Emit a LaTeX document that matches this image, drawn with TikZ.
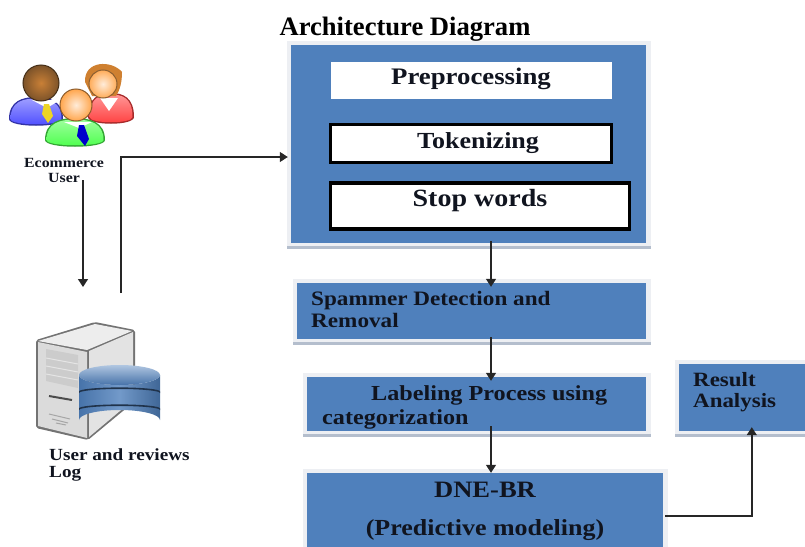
\documentclass[tikz,border=0pt]{standalone}
\usepackage{fontspec}
\setmainfont[FakeStretch=1.13]{Liberation Serif}
\newfontfamily\titlefont{Liberation Serif}
\usetikzlibrary{arrows.meta,calc}
\definecolor{boxblue}{HTML}{4F80BC}
\definecolor{boxrim}{HTML}{EDEFF3}
\definecolor{boxedge}{HTML}{B4BECD}
\definecolor{inkdark}{HTML}{10141F}
\tikzset{
  bluebox/.style={fill=boxblue, inner sep=0pt},
  whitebox/.style={fill=white, inner sep=0pt},
  framebox/.style={fill=white, draw=black, line width=3.2pt, inner sep=0pt},
  boxtext/.style={text=inkdark, inner sep=0pt, anchor=base, font=\bfseries\fontsize{#1}{#1}\selectfont},
  sidetext/.style={text=inkdark, inner sep=0pt, anchor=base west, font=\bfseries\fontsize{#1}{#1}\selectfont},
  flow/.style={line width=1.4pt, draw=black!85, -{Triangle[length=8pt,width=10pt]}}
}
% name, left, top, right, bottom
\newcommand{\flowBox}[5]{
  \fill[boxrim] (#2-4,#3-4) rectangle (#4+5,#5+5);
  \fill[boxedge] (#2-4,#5+3) rectangle (#4+5,#5+6);
  \node[bluebox, minimum width=#4pt-#2pt, minimum height=#5pt-#3pt] (#1) at ({(#2+#4)/2},{(#3+#5)/2}) {};
}
% y, colour
\newcommand{\dbDisk}[2]{ \fill[#2] (79,#1) arc[start angle=180, end angle=360, x radius=40.5, y radius=4] -- ++(0,-1.6) arc[start angle=360, end angle=180, x radius=40.5, y radius=4] -- cycle; }
% centre x, half width, top, bottom, colour
\newcommand{\userBody}[5]{
  \fill[#5!65!black] (#1-#2,#4-8) .. controls (#1-#2,#3+4) and (#1-#2*.5,#3) .. (#1,#3) .. controls (#1+#2*.5,#3) and (#1+#2,#3+4) .. (#1+#2,#4-8) .. controls (#1+#2,#4+1) and (#1-#2,#4+1) .. cycle;
  \shade[top color=#5!55!white, bottom color=#5] (#1-#2+1.5,#4-8) .. controls (#1-#2+1.5,#3+5) and (#1-#2*.5,#3+1.5) .. (#1,#3+1.5) .. controls (#1+#2*.5,#3+1.5) and (#1+#2-1.5,#3+5) .. (#1+#2-1.5,#4-8) .. controls (#1+#2-1.5,#4-1) and (#1-#2+1.5,#4-1) .. cycle;
}
% x, y, radius, inner colour, outer colour
\newcommand{\userHead}[5]{
  \shade[inner color=#4, outer color=#5, draw=#5!55!black, line width=1pt] (#1,#2) circle (#3);
}
\begin{document}
\begin{tikzpicture}[x=1pt,y=-1pt]
  \useasboundingbox (0,0) rectangle (805,546);
  \node[text=black, inner sep=0pt, anchor=base, font=\titlefont\bfseries\fontsize{26.6}{26.6}\selectfont] (title) at (405,35) {Architecture Diagram};

  % people
  \userBody{111}{23}{93}{125}{red!75!white}
  \fill[white] (100,98) -- (109,111) -- (118,98) -- cycle;
  \fill[brown!75!orange] (85,82) .. controls (84,60) and (112,60) .. (122,72) .. controls (122,82) and (120,90) .. (116,96) -- (92,96) -- cycle;
  \userHead{103}{84}{14}{orange!15!white}{orange!65!white}
  \userBody{36}{27}{97}{127}{blue!70!white}
  \fill[white] (32,100) -- (47,108) -- (60,100) -- cycle;
  \fill[yellow!70!brown] (44,104) -- (49,104) -- (53,116) -- (48,123) -- (42,114) -- cycle;
  \userHead{41}{83}{18}{brown!85!orange}{brown!65!black}
  \userBody{75}{30}{118}{148}{green!70!white}
  \fill[white] (64,122) -- (79,128) -- (92,122) -- cycle;
  \fill[blue!80!black] (79,125) -- (84,125) -- (89,139) -- (85,146) -- (77,136) -- cycle;
  \userHead{76}{105}{16}{orange!15!white}{orange!70!white}
  \node[boxtext=14] (ecommerce) at (64,167) {Ecommerce};
  \node[boxtext=14] (eUser) at (64,182) {User};

  % server
  \fill[black!55, rounded corners=2pt] (36,340) -- (95,322) -- (135,330) -- (135,401) -- (88,440) -- (36,428) -- cycle;
  \fill[black!14] (38,342) -- (87,352) -- (87,438) -- (38,426) -- cycle;
  \fill[black!7] (38,341) -- (95,324) -- (132,331) -- (87,350) -- cycle;
  \fill[black!11] (89,351) -- (133,332) -- (133,400) -- (89,437) -- cycle;
  \fill[black!20] (46,349) -- (78,355) -- (78,388) -- (46,381) -- cycle;
  \draw[black!10, line width=1pt] (46,358) -- (78,364) (46,366) -- (78,372) (46,374) -- (78,380);
  \draw[black!70, line width=2pt] (49,396) -- (72,400);
  \draw[black!35, line width=1pt] (49,414) -- (70,419) (52,419) -- (68,423) (56,423) -- (66,425);

  % database
  \shade[left color=boxblue!90!black, right color=boxblue!80!black, middle color=boxblue!80!white] (79,375) arc[start angle=180, end angle=0, x radius=40.5, y radius=10] -- (160,420) arc[start angle=360, end angle=180, x radius=40.5, y radius=10] -- cycle;
  \shade[top color=boxblue!45!white, bottom color=boxblue!90!black] (119.5,375) ellipse[x radius=40.5, y radius=10];
  \dbDisk{393}{black!60!boxblue}
  \dbDisk{410}{black!60!boxblue}
  \node[sidetext=17] (logLabel) at (49,460) {User and reviews};
  \node[sidetext=17] (logLabelb) at (49,477) {Log};

  % process boxes
  \flowBox{prep}{291}{45}{646}{243}
  \node[whitebox, minimum width=281pt, minimum height=37pt] (preproc) at (471.5,80.5) {};
  \node[boxtext=23.7] (preprocText) at (471,84) {Preprocessing};
  \node[framebox, minimum width=281pt, minimum height=38pt] (token) at (471,143.5) {};
  \node[boxtext=23] (tokenText) at (478,148) {Tokenizing};
  \node[framebox, minimum width=299pt, minimum height=46pt] (stop) at (480,206) {};
  \node[boxtext=24.8] (stopText) at (480,206) {Stop words};

  \flowBox{spam}{297}{283}{646}{339}
  \node[sidetext=20.5] (spamText) at (311,305) {Spammer Detection and};
  \node[sidetext=20.5] (spamTextb) at (311,327) {Removal};

  \flowBox{label}{307}{377}{646}{431}
  \node[sidetext=21.4] (labelText) at (371,400) {Labeling Process using};
  \node[sidetext=21.4] (labelTextb) at (322,424) {categorization};

  \flowBox{dne}{307}{473}{663}{560}
  \node[boxtext=23.5] (dneText) at (485,497) {DNE-BR};
  \node[boxtext=23] (dneTextb) at (485,535) {(Predictive modeling)};

  \flowBox{result}{679}{364}{820}{431}
  \node[sidetext=20.3] (resultText) at (693,386) {Result};
  \node[sidetext=20.3] (resultTextb) at (693,407) {Analysis};

  % connectors
  \coordinate (userOut) at (83,180);
  \coordinate (logIn) at (83,287);
  \coordinate (logOut) at (121,293);
  \coordinate (flowLine) at (491,0);
  \draw[flow] (userOut) -- (logIn);
  \draw[flow] (logOut) |- ([xshift=-3pt]prep.west |- 0,157);
  \draw[flow] ([yshift=2pt]prep.south -| flowLine) -- ([yshift=-4pt]spam.north -| flowLine);
  \draw[flow] ([yshift=2pt]spam.south -| flowLine) -- ([yshift=-4pt]label.north -| flowLine);
  \draw[flow] ([yshift=5pt]label.south -| flowLine) -- (dne.north -| flowLine);
  \draw[flow] ([xshift=2pt]dne.east |- 0,516) -| ([yshift=4pt,xshift=73pt]result.south west);
\end{tikzpicture}
\end{document}
